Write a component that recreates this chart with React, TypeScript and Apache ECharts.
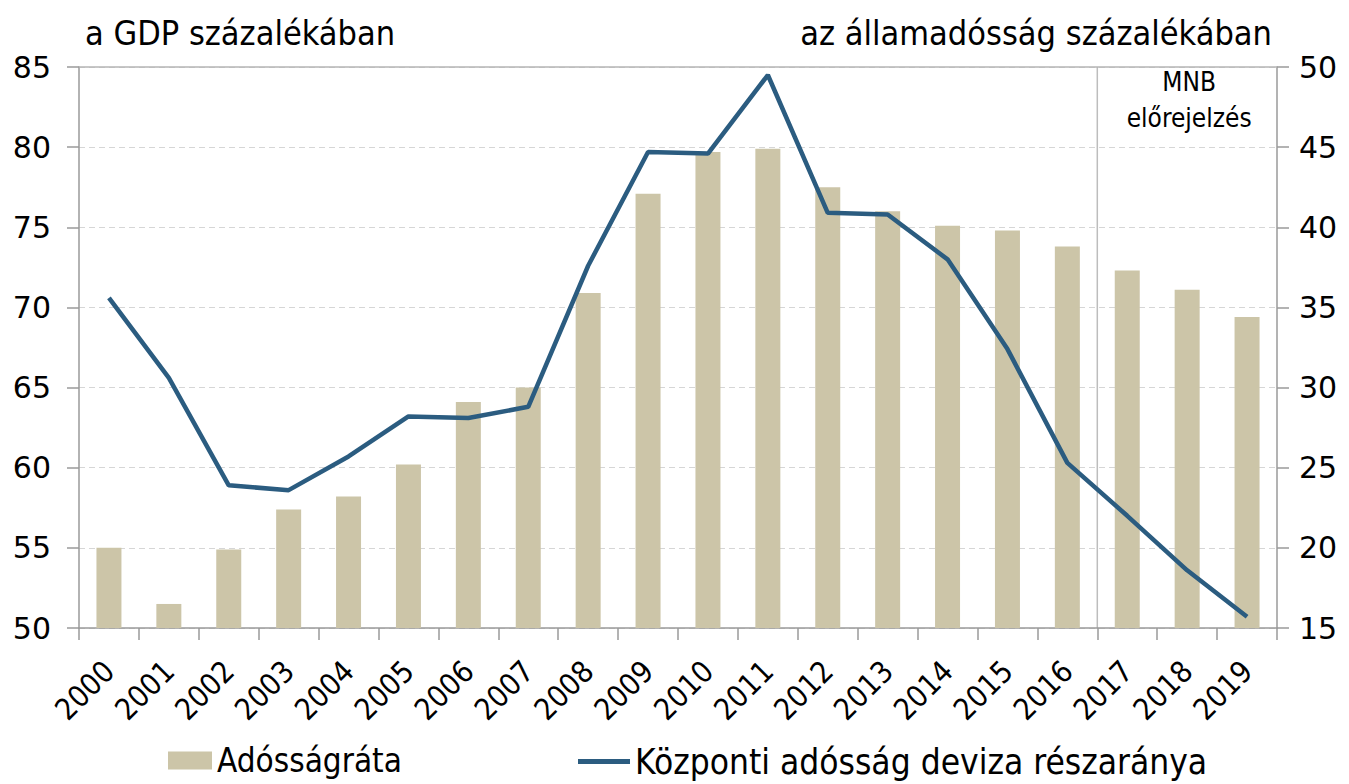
import React, { useEffect, useRef } from "react";
import * as echarts from "echarts";

const years = ["2000","2001","2002","2003","2004","2005","2006","2007","2008","2009","2010","2011","2012","2013","2014","2015","2016","2017","2018","2019"];
const debtRatio = [55.0,51.5,54.9,57.4,58.2,60.2,64.1,65.0,70.9,77.1,79.7,79.9,77.5,76.0,75.1,74.8,73.8,72.3,71.1,69.4];
const fxShare = [35.6,30.6,23.9,23.6,25.7,28.2,28.1,28.8,37.6,44.7,44.6,49.5,40.9,40.8,38.0,32.4,25.3,22.0,18.6,15.7];
const leftTicks = { min: 50, max: 85, interval: 5 };
const rightTicks = { min: 15, max: 50, interval: 5 };
const barName = "Adósságráta";
const lineName = "Központi adósság deviza részaránya";
const leftTitle = "a GDP százalékában";
const rightTitle = "az államadósság százalékában";
const forecastLabel = "MNB\nelőrejelzés";
const forecastStart = "2017";

const FONT = "'DejaVu Sans Condensed', 'Liberation Sans Narrow', 'DejaVu Sans', sans-serif";
const NUM_FONT = "'DejaVu Sans', sans-serif";
const BAR_COLOR = "#ccc5a8";
const LINE_COLOR = "#2b5c80";
const AXIS_COLOR = "#9a9a9a";

export default function App() {
  const ref = useRef<HTMLDivElement>(null);
  useEffect(() => {
    if (!ref.current) return;
    const chart = echarts.init(ref.current, null, { renderer: "svg" });
    const option: any = {
      animation: false,
      textStyle: { fontFamily: FONT },
      grid: { left: 79, right: 72, top: 67, bottom: 156, containLabel: false },
      legend: [
        {
          data: [{ name: barName, icon: "rect" }],
          left: 168, top: 744, padding: 0, itemWidth: 44, itemHeight: 18,
          textStyle: { fontFamily: FONT, fontSize: 33, color: "#000" },
          selectedMode: false,
        },
        {
          data: [{ name: lineName, icon: "rect" }],
          left: 578, top: 744, padding: 0, itemWidth: 52, itemHeight: 5,
          textStyle: { fontFamily: FONT, fontSize: 35, color: "#000" },
          selectedMode: false,
        },
      ],
      xAxis: {
        type: "category",
        data: years,
        boundaryGap: true,
        axisLine: { show: true, lineStyle: { color: AXIS_COLOR, width: 1.5 } },
        axisTick: { show: true, length: 12, interval: 0, lineStyle: { color: AXIS_COLOR, width: 1.5 } },
        axisLabel: { interval: 0, rotate: 45, fontSize: 30, color: "#000", fontFamily: FONT, margin: 38 },
        splitLine: { show: false },
      },
      yAxis: [
        {
          type: "value",
          min: leftTicks.min, max: leftTicks.max, interval: leftTicks.interval,
          axisLine: { show: true, lineStyle: { color: AXIS_COLOR, width: 1.5 } },
          axisTick: { show: true, length: 12, lineStyle: { color: AXIS_COLOR, width: 1.5 } },
          axisLabel: { fontSize: 30, color: "#000", fontFamily: NUM_FONT, margin: 28 },
          splitLine: { show: true, lineStyle: { color: "#d6d6d6", type: [6, 4], width: 1.2 } },
        },
        {
          type: "value",
          position: "right",
          min: rightTicks.min, max: rightTicks.max, interval: rightTicks.interval,
          axisLine: { show: true, lineStyle: { color: AXIS_COLOR, width: 1.5 } },
          axisTick: { show: true, length: 12, lineStyle: { color: AXIS_COLOR, width: 1.5 } },
          axisLabel: { fontSize: 30, color: "#000", fontFamily: NUM_FONT, margin: 22 },
          splitLine: { show: false },
        },
      ],
      series: [
        {
          name: barName,
          type: "bar",
          data: debtRatio,
          yAxisIndex: 0,
          barWidth: 25,
          itemStyle: { color: BAR_COLOR },
          markLine: {
            silent: true,
            symbol: "none",
            label: { show: false },
            lineStyle: { color: "#b5b5b5", type: "solid", width: 1.5 },
            data: [{ yAxis: leftTicks.max }],
          },
        },
        {
          name: lineName,
          type: "line",
          data: fxShare,
          yAxisIndex: 1,
          showSymbol: false,
          symbol: "none",
          lineStyle: { color: LINE_COLOR, width: 4.5 },
          itemStyle: { color: LINE_COLOR },
        },
      ],
    };
    chart.setOption(option);

    const idx = years.indexOf(forecastStart);
    const xa = chart.convertToPixel({ xAxisIndex: 0 }, years[idx - 1]) as number;
    const xb = chart.convertToPixel({ xAxisIndex: 0 }, years[idx]) as number;
    const xc = chart.convertToPixel({ xAxisIndex: 0 }, years[idx + 1]) as number;
    const sepX = (xa + xb) / 2;
    const yTop = chart.convertToPixel({ yAxisIndex: 0 }, leftTicks.max) as number;
    const yBot = chart.convertToPixel({ yAxisIndex: 0 }, leftTicks.min) as number;

    chart.setOption({
      graphic: [
        {
          type: "line",
          shape: { x1: sepX, y1: yTop, x2: sepX, y2: yBot },
          style: { stroke: "#bdbdbd", lineWidth: 1.5 },
          silent: true,
        },
        {
          type: "text",
          x: xc + 2, y: yTop - 3,
          style: { text: forecastLabel, font: `26px ${FONT}`, fill: "#000", align: "center", verticalAlign: "top", lineHeight: 36 },
          silent: true,
        },
        {
          type: "text",
          x: 85, y: 33,
          style: { text: leftTitle, font: `34px ${FONT}`, fill: "#000", align: "left", verticalAlign: "middle" },
          silent: true,
        },
        {
          type: "text",
          x: 1272, y: 33,
          style: { text: rightTitle, font: `34px ${FONT}`, fill: "#000", align: "right", verticalAlign: "middle" },
          silent: true,
        },
      ],
    });

    return () => chart.dispose();
  }, []);
  return (
    <div
      ref={ref}
      style={{ position: "fixed", left: 0, top: 0, width: 1349, height: 784, background: "#fff" }}
    />
  );
}
